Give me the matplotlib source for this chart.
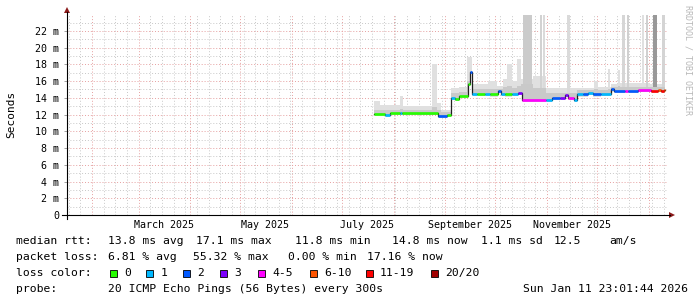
import numpy as np
import pandas as pd
import matplotlib
matplotlib.use("Agg")
import matplotlib.pyplot as plt
import matplotlib.dates as mdates
from matplotlib.ticker import MultipleLocator, FuncFormatter
from matplotlib.lines import Line2D
from matplotlib.patches import Polygon, Rectangle

plt.rcParams['font.family'] = ['DejaVu Sans Mono']

# graph covers the last 360 days up to the print time
t_end = pd.Timestamp("2026-01-11 23:01:44")
t_start = t_end - pd.Timedelta(days=360)

# median rtt in ms (step changes) and loss class index per step
med_time = ["2025-07-20 04:00", "2025-07-26 18:00", "2025-07-29 18:00", "2025-08-04 18:00",
            "2025-08-06 00:00", "2025-08-27 14:00", "2025-09-02 00:00", "2025-09-04 10:00",
            "2025-09-06 18:00", "2025-09-09 05:00", "2025-09-14 14:00", "2025-09-15 12:00",
            "2025-09-17 00:00", "2025-09-20 00:00", "2025-09-24 18:00", "2025-09-27 18:00",
            "2025-10-02 14:00", "2025-10-04 10:00", "2025-10-06 18:00", "2025-10-11 00:00",
            "2025-10-14 14:00", "2025-10-16 17:00", "2025-10-31 10:00", "2025-11-04 00:00",
            "2025-11-08 18:00", "2025-11-11 18:00", "2025-11-13 14:00", "2025-11-17 05:00",
            "2025-11-18 17:00", "2025-11-22 14:00", "2025-11-25 14:00", "2025-11-28 14:00",
            "2025-12-03 10:00", "2025-12-09 10:00", "2025-12-11 05:00", "2025-12-17 18:00",
            "2025-12-19 14:00", "2025-12-25 14:00", "2026-01-02 10:00", "2026-01-06 14:00",
            "2026-01-08 10:00", "2026-01-10 05:00"]
med_ms = [12.1, 11.95, 12.2, 12.15, 12.15, 11.85, 12.0, 14.0, 13.9, 14.2,
          15.7, 17.1, 14.5, 14.5, 14.5, 14.4, 14.8, 14.5, 14.4, 14.5,
          14.6, 13.8, 13.8, 14.0, 14.0, 14.3, 14.0, 13.8, 14.4, 14.4,
          14.6, 14.4, 14.5, 15.0, 14.8, 14.8, 14.8, 14.9, 14.8, 14.9,
          14.8, 14.9]
med_loss = [0, 1, 0, 1, 0, 2, 0, 1, 0, 0,
            0, 2, 1, 0, 1, 0, 2, 1, 0, 1,
            3, 4, 1, 2, 3, 3, 4, 1, 1, 2,
            1, 2, 1, 2, 2, 4, 2, 4, 6, 5,
            6, 5]
data_end = "2026-01-10 22:00"

# smoke: top of outer (light) and inner (medium) grey bands, ms
smoke_time = ["2025-07-20 04:00", "2025-07-23 18:00", "2025-08-04 18:00", "2025-08-06 14:00",
              "2025-08-24 00:00", "2025-08-27 00:00", "2025-08-29 10:00", "2025-09-04 10:00",
              "2025-09-09 05:00", "2025-09-14 00:00", "2025-09-17 00:00", "2025-09-26 14:00",
              "2025-10-02 00:00", "2025-10-05 14:00", "2025-10-08 00:00", "2025-10-11 00:00",
              "2025-10-14 00:00", "2025-10-16 10:00", "2025-10-23 14:00", "2025-10-31 10:00",
              "2025-11-18 17:00", "2025-11-29 05:00", "2025-12-01 14:00", "2025-12-07 14:00",
              "2025-12-08 18:00", "2025-12-09 10:00", "2025-12-13 14:00", "2025-12-14 18:00",
              "2026-01-01 18:00"]
smoke_hi = [13.6, 13.1, 14.2, 13.0, 18.0, 13.4, 12.6, 15.2, 15.3, 18.9,
            15.6, 16.0, 15.4, 16.2, 18.0, 16.0, 18.6, 16.2, 16.6, 15.2,
            15.2, 16.0, 15.3, 17.5, 15.3, 15.6, 17.3, 15.8, 15.6]
smoke_mid = [12.6, 12.6, 12.7, 12.6, 12.9, 12.6, 12.3, 14.6, 14.7, 16.0,
             15.0, 15.1, 15.0, 15.3, 15.4, 15.2, 15.4, 15.6, 15.2, 14.6,
             14.9, 15.0, 14.9, 15.0, 14.9, 15.3, 15.4, 15.3, 15.3]

# outlier columns running off the top of the graph
spike_start = ["2025-10-17 14:00", "2025-10-27 19:00", "2025-10-29 14:00", "2025-11-13 00:00",
               "2025-12-16 06:00", "2025-12-18 17:00", "2025-12-28 00:00", "2025-12-30 02:00",
               "2026-01-03 10:00", "2026-01-09 02:00"]
spike_end = ["2025-10-23 00:00", "2025-10-29 00:00", "2025-10-30 12:00", "2025-11-14 19:00",
             "2025-12-17 19:00", "2025-12-19 22:00", "2025-12-28 22:00", "2025-12-31 07:00",
             "2026-01-06 03:00", "2026-01-10 22:00"]
spike_base = [14.3, 14.5, 14.5, 14.6, 15.2, 15.2, 15.3, 15.3, 15.2, 15.3]
spike_grey = ["#cbcbcb", "#d2d2d2", "#dadada", "#dadada", "#d6d6d6",
              "#d0d0d0", "#e0e0e0", "#d0d0d0", "#999999", "#d4d4d4"]

loss_labels = ["0", "1", "2", "3", "4-5", "6-10", "11-19", "20/20"]
loss_colors = ["#26ff00", "#00b8ff", "#0059ff", "#7e00ff",
               "#ff00ff", "#ff5500", "#ff0000", "#a10000"]

month_label_time = ["2025-03-16", "2025-05-16", "2025-07-16", "2025-09-16", "2025-11-16"]


def num(ts):
    return mdates.date2num(pd.to_datetime(ts))


def step_at(times, values, t):
    idx = np.searchsorted(times, t, side="right") - 1
    return np.asarray(values)[np.clip(idx, 0, len(values) - 1)]


W, H = 697, 297
def fx(px):
    return px / W
def fy(py):
    return 1 - py / H


fig = plt.figure(figsize=(W / 100, H / 100), dpi=100)
fig.patch.set_facecolor('white')
ax = fig.add_axes([fx(67), fy(215), 600 / W, 200 / H])

mt = num(med_time)
st = num(smoke_time)
t_stop = num(data_end)
grid = np.unique(np.concatenate([mt, st, [t_stop]]))
med_g = step_at(mt, med_ms, grid)
hi_g = step_at(st, smoke_hi, grid)
mid_g = step_at(st, smoke_mid, grid)

# smoke
ax.fill_between(grid, med_g - 0.25, hi_g, step='post', color='#e0e0e0', lw=0, zorder=2)
for s, e, b, g in zip(spike_start, spike_end, spike_base, spike_grey):
    ax.bar(num(s), 40 - b, bottom=b, width=num(e) - num(s), align='edge',
           color=g, lw=0, zorder=2.5)
ax.fill_between(grid, med_g - 0.15, np.maximum(mid_g, med_g), step='post',
                color='#c9c9c9', lw=0, zorder=3)

# median line: black step plus loss colored band
ax.step(np.append(mt, t_stop), np.append(med_ms, med_ms[-1]), where='post',
        color='#202020', lw=0.9, zorder=4)
seg_end = np.append(mt[1:], t_stop)
for t0, t1, m, lc in zip(mt, seg_end, med_ms, med_loss):
    ax.hlines(m, t0, t1, colors=loss_colors[lc], lw=1.9, zorder=5, capstyle='butt')

ax.set_xlim(num(t_start), num(t_end))
ax.set_ylim(0, 23.9)

ax.xaxis.set_major_locator(mdates.MonthLocator())
ax.xaxis.set_minor_locator(mdates.WeekdayLocator(byweekday=mdates.SA))
ax.xaxis.set_major_formatter(plt.NullFormatter())
ax.yaxis.set_major_locator(MultipleLocator(2))
ax.yaxis.set_minor_locator(MultipleLocator(1))
ax.yaxis.set_major_formatter(FuncFormatter(lambda v, p: "0" if v == 0 else f"{int(round(v))} m"))

ax.grid(which='minor', color='#c8c8c8', ls=(0, (1, 2)), lw=0.7, zorder=1)
ax.grid(which='major', color='#e6a0a0', ls=(0, (1, 2)), lw=0.7, zorder=1)
ax.set_axisbelow(True)
ax.tick_params(axis='x', which='both', length=0)
ax.tick_params(axis='y', which='major', length=2, width=0.7, color='#a0a0a0',
               pad=3.5, labelsize=7.2)
ax.tick_params(axis='y', which='minor', length=0)
for sp in ax.spines.values():
    sp.set_visible(False)

for lab in month_label_time:
    ax.annotate(pd.Timestamp(lab).strftime("%B %Y"), xy=(num(lab), 0),
                xycoords=('data', 'axes fraction'), xytext=(0, -5),
                textcoords='offset pixels', ha='center', va='top', fontsize=7.2)

# axes with arrows
fig.add_artist(Line2D([fx(62), fx(670)], [fy(215), fy(215)], transform=fig.transFigure,
                      color='black', lw=0.8))
fig.add_artist(Line2D([fx(67), fx(67)], [fy(219), fy(12)], transform=fig.transFigure,
                      color='black', lw=0.8))
fig.add_artist(Polygon([(fx(669), fy(212)), (fx(669), fy(218)), (fx(675), fy(215))],
                       closed=True, transform=fig.transFigure, color='#8b1a1a', lw=0))
fig.add_artist(Polygon([(fx(64), fy(13)), (fx(70), fy(13)), (fx(67), fy(7))],
                       closed=True, transform=fig.transFigure, color='#8b1a1a', lw=0))

fig.text(fx(11), fy(114), "Seconds", rotation=90, ha='center', va='center', fontsize=8)
fig.text(fx(688), fy(5), "RRDTOOL / TOBI OETIKER", rotation=270, ha='center', va='top',
         fontsize=6, color='#b8b8b8')

# legend / statistics
fs = 8.2
rows = {
    241: [(16, "median rtt:"), (108.5, "13.8 ms avg"), (196.4, "17.1 ms max"),
          (294.6, "11.8 ms min"), (392, "14.8 ms now"), (481, "1.1 ms sd"),
          (553.6, "12.5"), (609.4, "am/s")],
    257: [(16, "packet loss:"), (108.5, "6.81 % avg"), (192.9, "55.32 % max"),
          (288, "0.00 % min"), (367.4, "17.16 % now")],
    273: [(16, "loss color:")],
    289: [(16, "probe:"), (108.5, "20 ICMP Echo Pings (56 Bytes) every 300s")],
}
for y, items in rows.items():
    for x, s in items:
        fig.text(fx(x), fy(y), s, ha='left', va='center', fontsize=fs)
fig.text(fx(688), fy(289), "Sun Jan 11 23:01:44 2026", ha='right', va='center', fontsize=fs)

label_x = [124, 160.5, 197.5, 234.5, 272, 324, 380, 445]
for lx, lab, col in zip(label_x, loss_labels, loss_colors):
    fig.add_artist(Rectangle((fx(lx - 14.5), fy(277)), 7 / W, 7 / H, transform=fig.transFigure,
                             facecolor=col, edgecolor='black', lw=0.6))
    fig.text(fx(lx), fy(273), lab, ha='left', va='center', fontsize=fs)

fig.savefig("out.png", dpi=100)
